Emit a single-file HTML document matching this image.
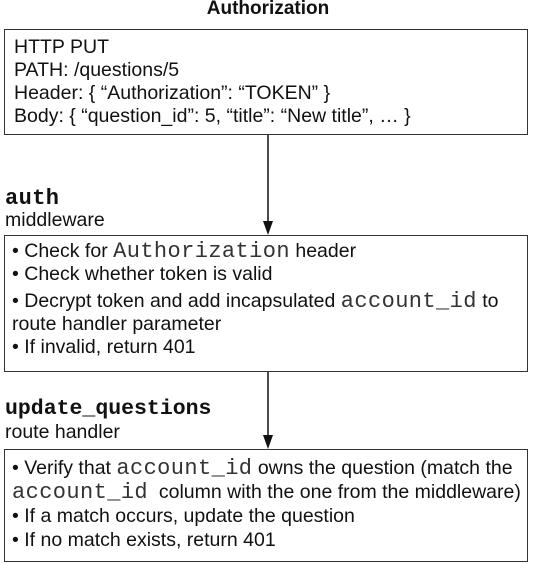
<!DOCTYPE html>
<html><head><style>
body{margin:0;width:536px;height:564px;background:#fff;position:relative;font-family:"Liberation Sans",sans-serif;color:#111;overflow:hidden}
.t{position:absolute;white-space:nowrap;font-size:19.5px;line-height:23px}
.box{position:absolute;border:1.5px solid #333;box-sizing:border-box}
.m{font-family:"Liberation Mono",monospace;font-size:22px;letter-spacing:0.4px;line-height:10px;color:#333}
.b{font-weight:bold;color:#111}
</style></head><body>
<div class="t b" style="left:0;width:536px;text-align:center;top:-3px;font-size:19px">Authorization</div>
<div class="box" style="left:4px;top:29px;width:524px;height:106px"></div>
<div class="t" style="left:14px;top:36px">HTTP PUT<br>PATH: /questions/5<br>Header: { “Authorization”: “TOKEN” }<br>Body: { “question_id”: 5, “title”: “New title”, … }</div>
<div class="t m b" style="left:5px;top:187px;line-height:23px">auth</div>
<div class="t" style="left:5px;top:209px">middleware</div>
<div class="box" style="left:4px;top:235px;width:524px;height:137px"></div>
<div class="t" style="left:12px;top:240px">• Check for <span class="m">Authorization</span> header<br>• Check whether token is valid</div>
<div class="t" style="left:12px;top:290px">• Decrypt token and add incapsulated <span class="m">account_id</span> to<br>route handler parameter<br>• If invalid, return 401</div>
<div class="t m b" style="left:5px;top:398px;line-height:23px;font-size:21.5px;letter-spacing:0">update_questions</div>
<div class="t" style="left:5px;top:421px">route handler</div>
<div class="box" style="left:4px;top:449px;width:524px;height:113px"></div>
<div class="t" style="left:12px;top:456px;line-height:24px">• Verify that <span class="m">account_id</span> owns the question (match the<br><span class="m">account_id</span>&nbsp; column with the one from the middleware)<br>• If a match occurs, update the question<br>• If no match exists, return 401</div>
<svg style="position:absolute;left:0;top:0" width="536" height="564">
<line x1="268" y1="135" x2="268" y2="222" stroke="#111" stroke-width="1.5"/>
<polygon points="263,221 273,221 268,235" fill="#111"/>
<line x1="268" y1="372" x2="268" y2="436" stroke="#111" stroke-width="1.5"/>
<polygon points="263,435 273,435 268,449" fill="#111"/>
</svg>
</body></html>
